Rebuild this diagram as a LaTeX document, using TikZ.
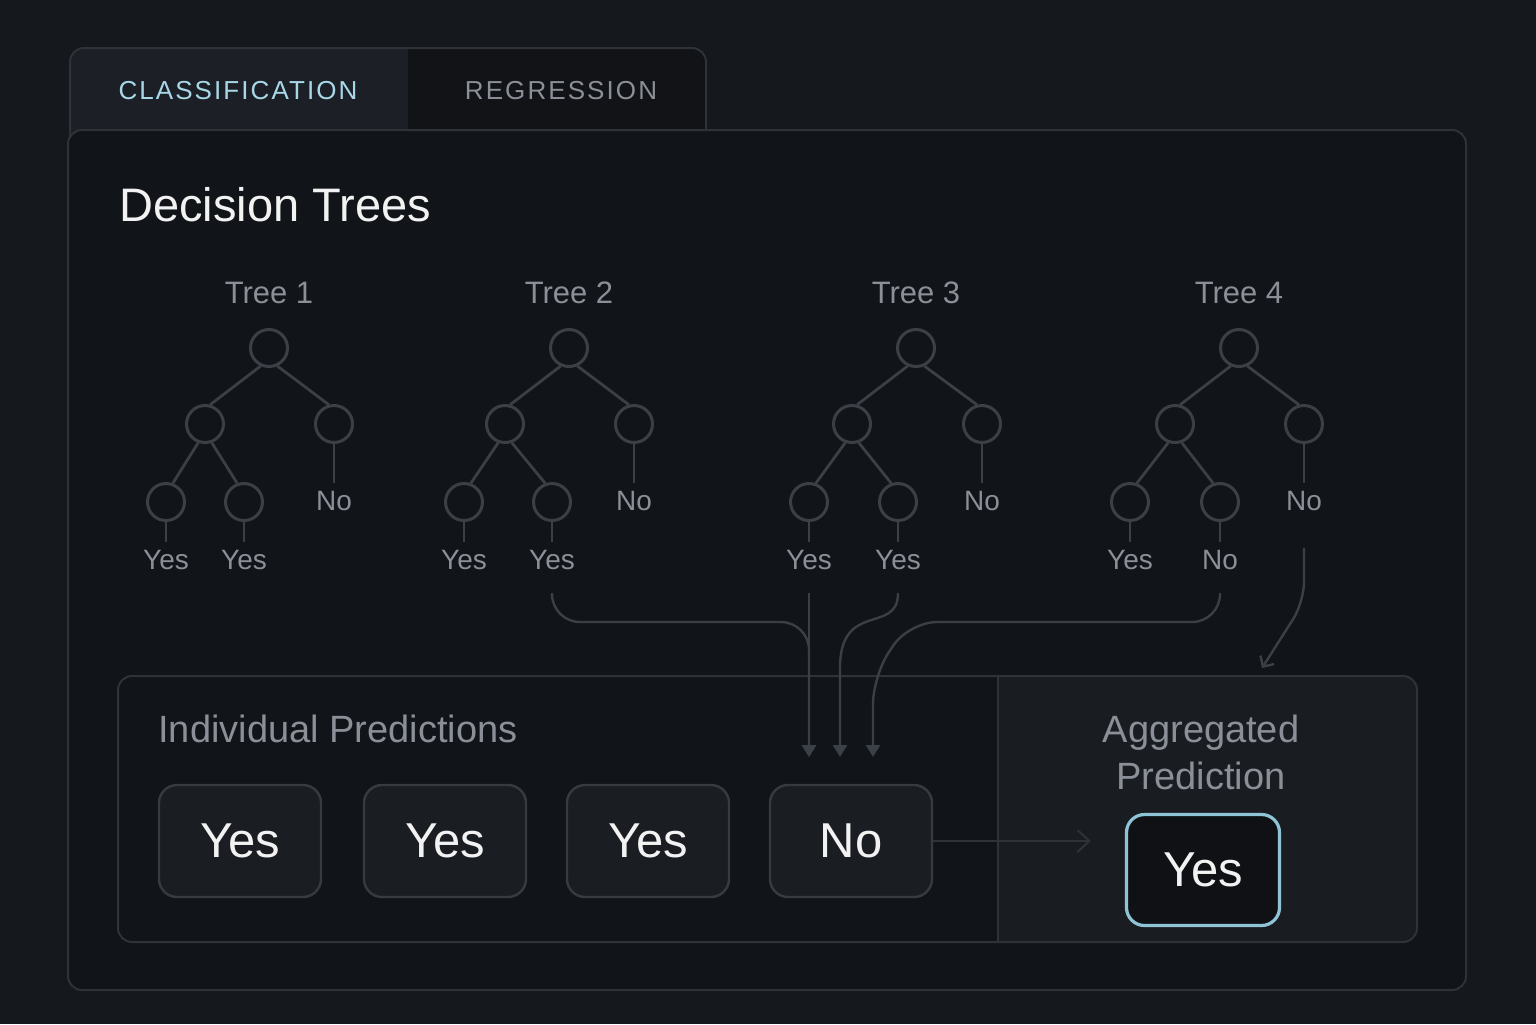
\documentclass[tikz,border=0pt]{standalone}
\usepackage{fontspec}
\setmainfont{Liberation Sans}
\newfontfamily\tabfont[LetterSpace=8]{Liberation Sans}
\usepackage{xcolor}
\usetikzlibrary{arrows.meta, positioning, calc}

\definecolor{bgdark}{HTML}{15181D}
\definecolor{panel}{HTML}{111418}
\definecolor{frame}{HTML}{2E333A}
\definecolor{tabon}{HTML}{1C1F25}
\definecolor{taboff}{HTML}{111317}
\definecolor{accent}{HTML}{A8D8E8}
\definecolor{muted}{HTML}{8B9098}
\definecolor{wire}{HTML}{3B4047}
\definecolor{boxfill}{HTML}{1A1D22}
\definecolor{boxline}{HTML}{363B42}
\definecolor{aggfill}{HTML}{191C21}
\definecolor{resline}{HTML}{8EC4D6}
\definecolor{resfill}{HTML}{0F1115}
\definecolor{bright}{HTML}{F2F2F2}

\begin{document}
\begin{tikzpicture}[x=0.5pt, y=-0.5pt,
    tnode/.style={circle, draw=wire, fill=panel, line width=1.5pt, minimum size=18.5pt, inner sep=0pt},
    leaf/.style={text=muted, font=\fontsize{14}{16}\selectfont, inner sep=4pt},
    treetitle/.style={text=muted, font=\fontsize{15.5}{18}\selectfont},
    branch/.style={draw=wire, line width=1.4pt},
    pbox/.style={draw=boxline, fill=boxfill, line width=1.2pt, rounded corners=9pt,
        minimum width=81pt, minimum height=56pt, text=bright, font=\fontsize{24.5}{28}\selectfont},
    flow/.style={draw=wire, line width=1.2pt, -{Triangle[length=6pt, width=7pt]}},
    barb/.style={draw=wire, line width=1.2pt, -{Straight Barb[length=4pt, width=8pt]}},
    thinarrow/.style={draw=frame, line width=1pt, -{Straight Barb[length=6pt, width=11pt]}},
    frameline/.style={draw=frame, line width=1pt}
  ]

  \fill[bgdark] (0,0) rectangle (1536,1024);
  \useasboundingbox (0,0) rectangle (1536,1024);

  \begin{scope}
    \clip[rounded corners=7pt] (70,140) rectangle (706,48);
    \fill[tabon] (70,140) rectangle (408,48);
    \fill[taboff] (408,140) rectangle (706,48);
  \end{scope}
  \draw[frameline, rounded corners=7pt] (70,140) -- (70,48) -- (706,48) -- (706,140);
  \node[text=accent, font=\tabfont\fontsize{13}{15}\selectfont] (tabc) at (238,91) {CLASSIFICATION};
  \node[text=muted, font=\tabfont\fontsize{13}{15}\selectfont] (tabr) at (561,91) {REGRESSION};

  \draw[frameline, fill=panel, rounded corners=7pt] (68,130) rectangle (1466,990);
  \node[anchor=west, inner sep=0pt, text=bright, font=\fontsize{23.5}{27}\selectfont] (title) at (119,205) {Decision Trees};

  \foreach \n/\rx/\ax/\bx/\cx/\dx/\dl in {1/269/205/334/166/244/Yes, 2/569/505/634/464/552/Yes,
      3/916/852/982/809/898/Yes, 4/1239/1175/1304/1130/1220/No} {
    \node[treetitle] (t\n) at (\rx,293) {Tree \n};
    \node[tnode] (r\n) at (\rx,348) {};
    \node[tnode] (a\n) at (\ax,424) {};
    \node[tnode] (b\n) at (\bx,424) {};
    \node[tnode] (c\n) at (\cx,502) {};
    \node[tnode] (d\n) at (\dx,502) {};
    \node[leaf] (no\n) at (\bx,501) {No};
    \node[leaf] (y\n) at (\cx,560) {Yes};
    \node[leaf] (z\n) at (\dx,560) {\dl};
    \draw[branch] (r\n.-115) -- (a\n.75);
    \draw[branch] (r\n.-65) -- (b\n.105);
    \draw[branch] (a\n.-110) -- (c\n.70);
    \draw[branch] (a\n.-70) -- (d\n.110);
    \draw[branch] (b\n) -- (no\n);
    \draw[branch] (c\n) -- (y\n);
    \draw[branch] (d\n) -- (z\n);
  }

  \begin{scope}
    \clip[rounded corners=7pt] (118,676) rectangle (1417,942);
    \fill[panel] (118,676) rectangle (998,942);
    \fill[aggfill] (998,676) rectangle (1417,942);
  \end{scope}
  \draw[frameline, rounded corners=7pt] (118,676) rectangle (1417,942);
  \draw[frameline] (998,676) -- (998,942);

  \node[anchor=west, inner sep=0pt, text=muted, font=\fontsize{19}{23.5}\selectfont] (indiv) at (158,729) {Individual Predictions};
  \node[align=center, text=muted, font=\fontsize{19}{23.5}\selectfont] (aggr) at (1201,752) {Aggregated\\Prediction};

  \node[pbox] (p1) at (240,841) {Yes};
  \node[pbox] (p2) at (445,841) {Yes};
  \node[pbox] (p3) at (648,841) {Yes};
  \node[pbox] (p4) at (851,841) {No};
  \node[pbox, draw=resline, fill=resfill, line width=1.6pt, minimum width=76.5pt, minimum height=55.5pt] (res) at (1203,870) {Yes};

  \coordinate (bus) at (0,622);
  \coordinate (bend) at (0,602);
  \coordinate (in1) at (809,757);
  \coordinate (in2) at (840,757);
  \coordinate (in3) at (873,757);
  \coordinate (kink) at (909,622);
  \coordinate (drop) at (873,676);
  \coordinate (aggin) at (1262,668);

  \draw[flow, rounded corners=14pt, shorten <=7.5pt] (z2.south) -- (z2.south |- bus) -- (in1 |- bus) -- (in1);
  \draw[flow, shorten <=7.5pt] (y3.south) -- (in1);
  \draw[flow, shorten <=7.5pt] (z3.south) .. controls (898,635) and (840,600) .. (840,668) -- (in2);
  \draw[flow, rounded corners=14pt, shorten <=7.5pt] (z4.south) -- (z4.south |- bus) -- (kink) -- (drop) -- (in3);
  \draw[barb, rounded corners=10pt, shorten <=14.5pt] (no4.south) -- (no4.south |- bend) -- (aggin);
  \draw[thinarrow, shorten >=17pt] (p4.east) -- (p4.east -| res.west);

\end{tikzpicture}
\end{document}
